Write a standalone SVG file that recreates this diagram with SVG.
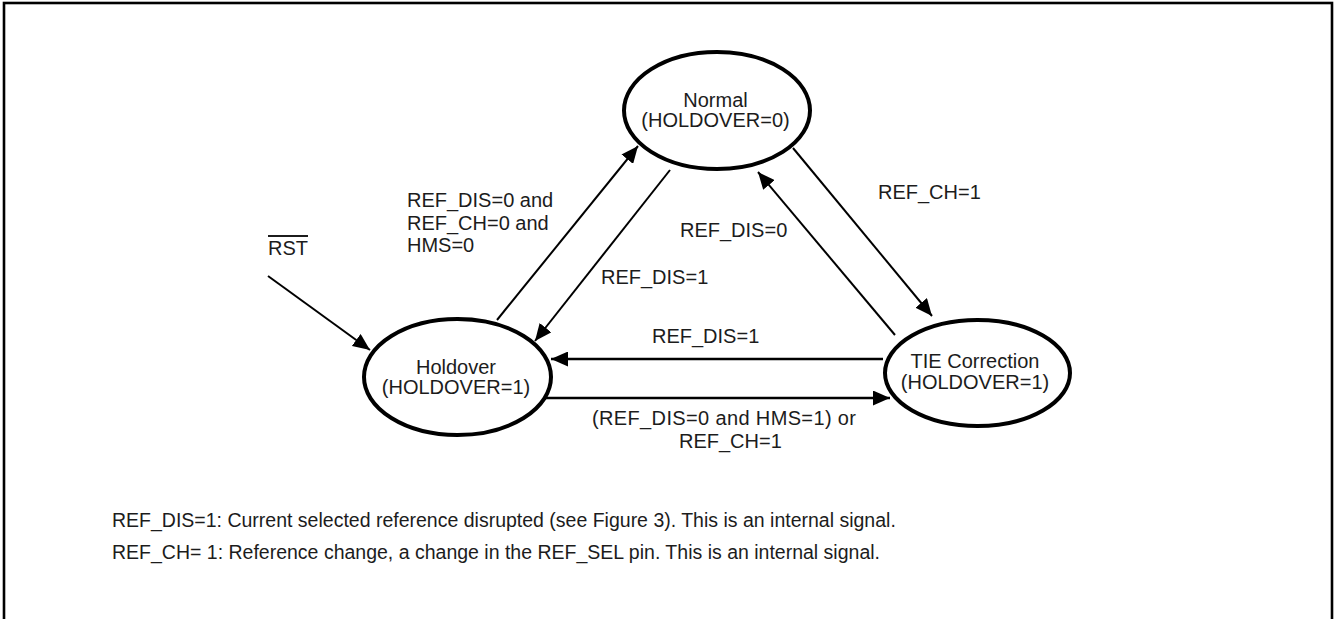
<svg xmlns="http://www.w3.org/2000/svg" width="1334" height="619" viewBox="0 0 1334 619">
<style>
text{font-family:"Liberation Sans",Arial,sans-serif;font-size:20px;fill:#1c1c1c}
.fn{font-size:19.5px}
.st{fill:#fff;stroke:#000;stroke-width:4}
.c{stroke:#000;stroke-width:2;fill:none;marker-end:url(#ah)}
.h{stroke-width:2.6}
.m{text-anchor:middle}
</style>
<defs>
<marker id="ah" markerUnits="userSpaceOnUse" markerWidth="17" markerHeight="15" refX="17" refY="7.5" orient="auto">
<path d="M0,0 L17,7.5 L0,15 z" fill="#000"/>
</marker>
</defs>
<rect x="4" y="3" width="1328" height="660" fill="#fff" stroke="#000" stroke-width="2.6"/>
<g id="connectors">
<line class="c" x1="268" y1="276" x2="370" y2="350"/>
<line class="c" x1="497" y1="320" x2="638" y2="146"/>
<line class="c" x1="670" y1="170" x2="535" y2="341"/>
<line class="c" x1="793" y1="148" x2="932" y2="316"/>
<line class="c" x1="895" y1="335" x2="758" y2="172"/>
<line class="c h" x1="883" y1="359" x2="551" y2="359"/>
<line class="c h" x1="543" y1="398" x2="890" y2="398"/>
</g>
<g id="normal">
<ellipse class="st" cx="717" cy="110.5" rx="93" ry="58.5"/>
<text class="m" x="715.5" y="107">Normal</text>
<text class="m" x="715.5" y="127">(HOLDOVER=0)</text>
</g>
<g id="holdover">
<ellipse class="st" cx="457.5" cy="377" rx="93.5" ry="58"/>
<text class="m" x="456" y="374">Holdover</text>
<text class="m" x="456" y="394">(HOLDOVER=1)</text>
</g>
<g id="tie">
<ellipse class="st" cx="977.5" cy="373" rx="92.5" ry="53"/>
<text class="m" x="975" y="368">TIE Correction</text>
<text class="m" x="975" y="389">(HOLDOVER=1)</text>
</g>
<g id="labels">
<text x="268" y="255" text-decoration="overline">RST</text>
<text x="407" y="207">REF_DIS=0 and</text>
<text x="407" y="229.5">REF_CH=0 and</text>
<text x="407" y="252">HMS=0</text>
<text x="878" y="199">REF_CH=1</text>
<text x="680" y="237">REF_DIS=0</text>
<text x="601" y="284">REF_DIS=1</text>
<text x="652" y="343">REF_DIS=1</text>
<text x="592" y="425" textLength="264" lengthAdjust="spacing">(REF_DIS=0 and HMS=1) or</text>
<text x="679" y="448">REF_CH=1</text>
<text class="fn" x="112" y="527">REF_DIS=1: Current selected reference disrupted (see Figure 3). This is an internal signal.</text>
<text class="fn" x="112" y="559">REF_CH= 1: Reference change, a change in the REF_SEL pin. This is an internal signal.</text>
</g>
</svg>
